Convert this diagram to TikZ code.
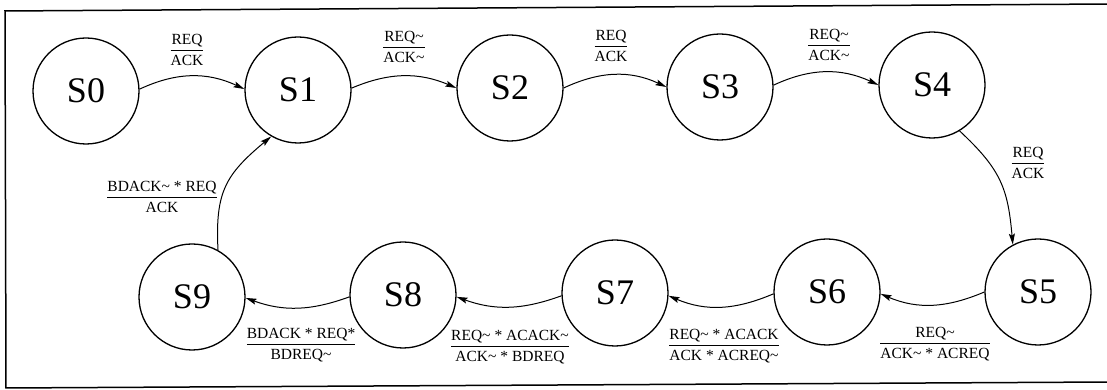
\documentclass[tikz,border=0pt]{standalone}
\usepackage{fontspec}
\setmainfont{Liberation Serif}
\usetikzlibrary{arrows.meta}
\setlength\arrayrulewidth{1pt}
\newcommand\tld{\textasciitilde}
\newcommand\lbl[2]{\renewcommand\arraystretch{1.1}\begin{tabular}{@{}c@{}}#1\\\hline #2\end{tabular}}
\tikzset{
  state/.style={circle, draw, line width=1.3pt, minimum size=106pt, inner sep=0pt,
    font=\fontsize{36}{40}\selectfont},
  trans/.style={line width=1pt, -{Stealth[length=11pt,width=6pt,inset=2pt]}},
  cond/.style={inner sep=0pt, font=\fontsize{15.5}{18}\selectfont},
  frame/.style={line width=1.5pt}
}
\begin{document}
\begin{tikzpicture}[x=1pt,y=1pt]
\useasboundingbox (0,0) rectangle (1107,390);
\coordinate (ftr) at (1110,386);
\coordinate (ftl) at (5,379);
\coordinate (fbl) at (6,2);
\coordinate (fbr) at (1110,8);
\draw[frame] (ftr) -- (ftl) -- (fbl) -- (fbr);

\node[state] (S0) at (86,299) {S0};
\node[state] (S1) at (298,300) {S1};
\node[state] (S2) at (510,302) {S2};
\node[state] (S3) at (720,303) {S3};
\node[state] (S4) at (932,305) {S4};
\node[state] (S5) at (1038,98) {S5};
\node[state] (S6) at (827,98) {S6};
\node[state] (S7) at (615,97) {S7};
\node[state] (S8) at (403,95) {S8};
\node[state] (S9) at (192,93) {S9};

\draw[trans] (S0.2) to[out=25,in=155] (S1.179);
\draw[trans] (S1.2) to[out=23,in=157] (S2.180);
\draw[trans] (S2.0) to[out=25,in=155] (S3.180);
\draw[trans] (S3.2) to[out=25,in=155] (S4.180);
\draw[trans] (S4.-59) to[out=-43,in=95,looseness=1.15] (S5.118);
\draw[trans] (S5.180) to[out=203,in=-23] (S6.-2);
\draw[trans] (S6.182) to[out=203,in=-23] (S7.-3);
\draw[trans] (S7.183) to[out=200,in=-20] (S8.-2);
\draw[trans] (S8.182) to[out=200,in=-20] (S9.-1);
\draw[trans] (S9.61) to[out=93,in=220,looseness=1.2] (S1.240);

\node[cond] (L01) at (187,339) {\lbl{REQ}{ACK}};
\node[cond] (L12) at (404,342) {\lbl{REQ\tld}{ACK\tld}};
\node[cond] (L23) at (611,343) {\lbl{REQ}{ACK}};
\node[cond] (L34) at (829,344) {\lbl{REQ\tld}{ACK\tld}};
\node[cond] (L45) at (1028,226) {\lbl{REQ}{ACK}};
\node[cond] (L56) at (935,46) {\lbl{REQ\tld}{ACK\tld{} * ACREQ}};
\node[cond] (L67) at (724,44) {\lbl{REQ\tld{} * ACACK}{ACK * ACREQ\tld}};
\node[cond] (L78) at (510,43) {\lbl{REQ\tld{} * ACACK\tld}{ACK\tld{} * BDREQ}};
\node[cond] (L89) at (301,45) {\lbl{BDACK * REQ*}{BDREQ\tld}};
\node[cond] (L91) at (162,192) {\lbl{BDACK\tld{} * REQ}{ACK}};
\end{tikzpicture}
\end{document}
